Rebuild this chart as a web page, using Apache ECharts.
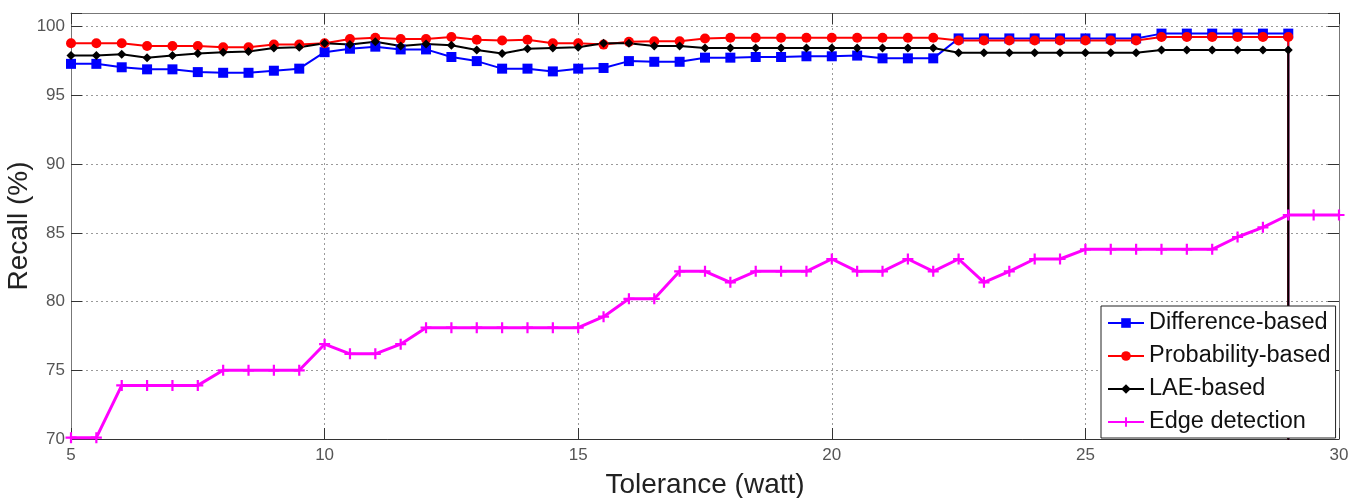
<html lang="en">
<head>
    <meta charset="UTF-8">
    <title>Recall vs tolerance</title>
    <script src="https://cdn.jsdelivr.net/npm/echarts@6.0.0/dist/echarts.min.js"></script>
</head>
<style>
    body {
        margin: 0;
        background: #fff;
    }
    #container {
        width: 1353px;
        height: 498px;
    }
</style>
<body>
<div id="container"></div>
<script>
    // tolerance values (watt), one per point
    var tolerance = [5, 5.5, 6, 6.5, 7, 7.5, 8, 8.5, 9, 9.5, 10, 10.5, 11, 11.5, 12, 12.5, 13, 13.5, 14, 14.5,
        15, 15.5, 16, 16.5, 17, 17.5, 18, 18.5, 19, 19.5, 20, 20.5, 21, 21.5, 22, 22.5, 23, 23.5, 24, 24.5,
        25, 25.5, 26, 26.5, 27, 27.5, 28, 28.5, 29, 29.5, 30];

    // recall (%), 5 .. 29
    var differenceBased = [97.3, 97.3, 97.05, 96.9, 96.9, 96.7, 96.65, 96.65, 96.8, 96.95,
        98.15, 98.4, 98.55, 98.35, 98.35, 97.8, 97.5, 96.95, 96.95, 96.75,
        96.95, 97.0, 97.5, 97.45, 97.45, 97.75, 97.75, 97.8, 97.8, 97.85,
        97.85, 97.9, 97.7, 97.7, 97.7, 99.15, 99.15, 99.15, 99.15, 99.15,
        99.15, 99.15, 99.15, 99.5, 99.5, 99.5, 99.5, 99.5, 99.5];
    var probabilityBased = [98.8, 98.8, 98.8, 98.6, 98.6, 98.6, 98.5, 98.5, 98.7, 98.7,
        98.8, 99.1, 99.2, 99.1, 99.1, 99.25, 99.05, 99.0, 99.05, 98.8,
        98.8, 98.7, 98.9, 98.95, 98.95, 99.15, 99.2, 99.2, 99.2, 99.2,
        99.2, 99.2, 99.2, 99.2, 99.2, 99.0, 99.0, 99.0, 99.0, 99.0,
        99.0, 99.0, 99.0, 99.25, 99.25, 99.25, 99.25, 99.25, 99.25];
    var laeBased = [97.9, 97.9, 98.0, 97.75, 97.9, 98.05, 98.15, 98.2, 98.45, 98.5,
        98.8, 98.7, 98.9, 98.6, 98.75, 98.65, 98.3, 98.05, 98.4, 98.45,
        98.5, 98.8, 98.8, 98.6, 98.6, 98.45, 98.45, 98.45, 98.45, 98.45,
        98.45, 98.45, 98.45, 98.45, 98.45, 98.1, 98.1, 98.1, 98.1, 98.1,
        98.1, 98.1, 98.1, 98.3, 98.3, 98.3, 98.3, 98.3, 98.3];
    // 5 .. 30
    var edgeDetection = [70.1, 70.1, 73.9, 73.9, 73.9, 73.9, 75.0, 75.0, 75.0, 75.0,
        76.9, 76.2, 76.2, 76.9, 78.1, 78.1, 78.1, 78.1, 78.1, 78.1,
        78.1, 78.9, 80.2, 80.2, 82.2, 82.2, 81.4, 82.2, 82.2, 82.2,
        83.1, 82.2, 82.2, 83.1, 82.2, 83.1, 81.4, 82.2, 83.1, 83.1,
        83.8, 83.8, 83.8, 83.8, 83.8, 83.8, 84.7, 85.4, 86.3, 86.3, 86.3];

    // the three methods fall off the bottom of the axes at 29 W
    var dropValue = 0;

    var xTicks = [5, 10, 15, 20, 25, 30];
    var yTicks = [70, 75, 80, 85, 90, 95, 100];

    function pairs(values, drop) {
        var out = [];
        for (var i = 0; i < values.length; i++) {
            out.push([tolerance[i], values[i]]);
        }
        if (drop) {
            out.push({value: [tolerance[values.length - 1], dropValue], symbol: 'none'});
        }
        return out;
    }

    var plusPath = 'path://M4,0H6V4H10V6H6V10H4V6H0V4H4Z';

    var chart = echarts.init(document.getElementById('container'));

    var tickStyle = {show: true, inside: true, length: 11, lineStyle: {color: '#333', width: 1}};
    var gridLine = {show: true, lineStyle: {color: '#9a9a9a', width: 1, type: [2, 3]}};

    var option = {
        animation: false,
        backgroundColor: '#fff',
        textStyle: {fontFamily: 'Liberation Sans'},
        grid: {left: 71, right: 14, top: 13, bottom: 59, containLabel: false, outerBoundsMode: 'none'},
        legend: {
            orient: 'vertical',
            left: 1101,
            top: 306,
            padding: [5, 5, 4, 6],
            itemGap: 9,
            itemWidth: 36,
            itemHeight: 12,
            backgroundColor: '#fff',
            borderColor: '#222',
            borderWidth: 1,
            textStyle: {fontSize: 23.5, color: '#111', fontFamily: 'Liberation Sans'},
            data: ['Difference-based', 'Probability-based', 'LAE-based', 'Edge detection']
        },
        xAxis: [{
            type: 'value',
            min: 5,
            max: 30,
            interval: 5,
            name: 'Tolerance (watt)',
            nameLocation: 'middle',
            nameGap: 32,
            nameMoveOverlap: false,
            nameTextStyle: {fontSize: 28, color: '#222'},
            axisLine: {show: true, lineStyle: {color: '#333'}},
            axisTick: tickStyle,
            axisLabel: {fontSize: 17, color: '#555', margin: 8,
                formatter: function (v) { return xTicks.indexOf(v) >= 0 ? v : ''; }},
            splitLine: gridLine
        }, {
            type: 'value',
            position: 'top',
            min: 5,
            max: 30,
            interval: 5,
            axisLine: {show: true, onZero: false, lineStyle: {color: '#777'}},
            axisTick: tickStyle,
            axisLabel: {show: false},
            splitLine: {show: false}
        }],
        yAxis: [{
            type: 'value',
            min: 70,
            max: 101,
            interval: 5,
            name: 'Recall (%)',
            nameLocation: 'middle',
            nameGap: 38,
            nameMoveOverlap: false,
            nameTextStyle: {fontSize: 28, color: '#222'},
            axisLine: {show: true, lineStyle: {color: '#777'}},
            axisTick: tickStyle,
            axisLabel: {fontSize: 17, color: '#555', margin: 6,
                formatter: function (v) { return yTicks.indexOf(v) >= 0 ? v : ''; }},
            splitLine: {show: true, lineStyle: {color: '#9a9a9a', width: 1, type: [2, 3]},
                interval: function (i, v) { return yTicks.indexOf(v) >= 0; }}
        }, {
            type: 'value',
            position: 'right',
            min: 70,
            max: 101,
            interval: 5,
            axisLine: {show: true, onZero: false, lineStyle: {color: '#777'}},
            axisTick: tickStyle,
            axisLabel: {show: false},
            splitLine: {show: false}
        }],
        series: [
            {
                name: 'Difference-based',
                type: 'line',
                data: pairs(differenceBased, true),
                symbol: 'rect',
                symbolSize: 10,
                lineStyle: {color: '#0000ff', width: 2},
                itemStyle: {color: '#0000ff'}
            },
            {
                name: 'Probability-based',
                type: 'line',
                data: pairs(probabilityBased, true),
                symbol: 'circle',
                symbolSize: 10,
                lineStyle: {color: '#ff0000', width: 2},
                itemStyle: {color: '#ff0000'}
            },
            {
                name: 'LAE-based',
                type: 'line',
                data: pairs(laeBased, true),
                symbol: 'diamond',
                symbolSize: 9,
                lineStyle: {color: '#000000', width: 2},
                itemStyle: {color: '#000000'}
            },
            {
                name: 'Edge detection',
                type: 'line',
                data: pairs(edgeDetection, false),
                symbol: plusPath,
                symbolSize: 11,
                lineStyle: {color: '#ff00ff', width: 3},
                itemStyle: {color: '#ff00ff'}
            }
        ]
    };

    chart.setOption(option);
</script>
</body>
</html>
